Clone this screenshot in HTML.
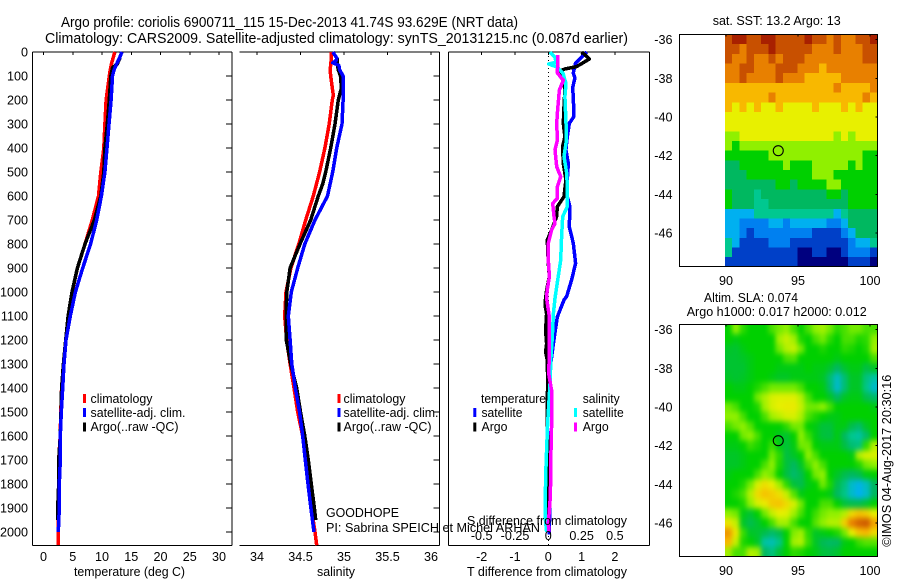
<!DOCTYPE html>
<html lang="en">
<head>
<meta charset="utf-8">
<title>Argo profile chart</title>
<style>
html,body{margin:0;padding:0;background:#fff;}
svg{display:block;font-family:"Liberation Sans",sans-serif;font-size:12.6px;fill:#000;}
text{fill:#000;}
</style>
</head>
<body>
<svg id="chart" xmlns="http://www.w3.org/2000/svg" width="900" height="580" viewBox="0 0 900 580">
  <defs>
    <clipPath id="clip-sst"><rect x="680" y="35" width="197" height="231"/></clipPath>
    <clipPath id="clip-sla"><rect x="680" y="325" width="197" height="231"/></clipPath>
    <filter id="smooth" filterUnits="userSpaceOnUse" x="690" y="295" width="210" height="285" color-interpolation-filters="sRGB"><feGaussianBlur stdDeviation="2.4 3"/></filter>
  </defs>

  <text x="61" y="27" font-size="14.4" textLength="457" lengthAdjust="spacingAndGlyphs">Argo profile: coriolis 6900711_115 15-Dec-2013 41.74S 93.629E (NRT data)</text>
  <text x="45" y="43" font-size="14.4" textLength="583" lengthAdjust="spacingAndGlyphs">Climatology: CARS2009. Satellite-adjusted climatology: synTS_20131215.nc (0.087d earlier)</text>

  <g id="map-layer"></g>
  <g id="plot-layer"></g>

  <g>
    <rect x="83" y="394" width="3" height="9" fill="#ff0000"/>
    <text x="90.5" y="403" textLength="62" lengthAdjust="spacingAndGlyphs">climatology</text>
    <rect x="83" y="408" width="3" height="9" fill="#0000ff"/>
    <text x="90.5" y="417" textLength="95" lengthAdjust="spacingAndGlyphs">satellite-adj. clim.</text>
    <rect x="83" y="422.5" width="3" height="9" fill="#000"/>
    <text x="90.5" y="431" textLength="88" lengthAdjust="spacingAndGlyphs">Argo(..raw -QC)</text>
  </g>
  <g>
    <rect x="337.5" y="394" width="3" height="9" fill="#ff0000"/>
    <text x="343.5" y="403" textLength="62" lengthAdjust="spacingAndGlyphs">climatology</text>
    <rect x="337.5" y="408" width="3" height="9" fill="#0000ff"/>
    <text x="343.5" y="417" textLength="95" lengthAdjust="spacingAndGlyphs">satellite-adj. clim.</text>
    <rect x="337.5" y="422.5" width="3" height="9" fill="#000"/>
    <text x="343.5" y="431" textLength="88" lengthAdjust="spacingAndGlyphs">Argo(..raw -QC)</text>
  </g>
  <g>
    <text x="481" y="403" textLength="65" lengthAdjust="spacingAndGlyphs">temperature</text>
    <rect x="473.3" y="408" width="3" height="9" fill="#0000ff"/>
    <text x="481.5" y="417" textLength="41" lengthAdjust="spacingAndGlyphs">satellite</text>
    <rect x="473.3" y="422.5" width="3" height="9" fill="#000"/>
    <text x="481.5" y="431" textLength="26" lengthAdjust="spacingAndGlyphs">Argo</text>
    <text x="582.7" y="403" textLength="37" lengthAdjust="spacingAndGlyphs">salinity</text>
    <rect x="574" y="408" width="3" height="9" fill="#00ffff"/>
    <text x="582.7" y="417" textLength="41" lengthAdjust="spacingAndGlyphs">satellite</text>
    <rect x="574" y="422.5" width="3" height="9" fill="#ff00ff"/>
    <text x="582.7" y="431" textLength="26" lengthAdjust="spacingAndGlyphs">Argo</text>
  </g>

  <text x="74" y="576" textLength="111" lengthAdjust="spacingAndGlyphs">temperature (deg C)</text>
  <text x="317" y="576" textLength="38" lengthAdjust="spacingAndGlyphs">salinity</text>
  <text x="467" y="576" textLength="160" lengthAdjust="spacingAndGlyphs">T difference from climatology</text>
  <text x="467" y="525" textLength="160" lengthAdjust="spacingAndGlyphs">S difference from climatology</text>
  <text x="326" y="517" textLength="73" lengthAdjust="spacingAndGlyphs">GOODHOPE</text>
  <text x="326" y="532" textLength="214" lengthAdjust="spacingAndGlyphs">PI: Sabrina SPEICH et Michel ARHAN</text>

  <text x="712.7" y="25" textLength="128" lengthAdjust="spacingAndGlyphs">sat. SST: 13.2 Argo: 13</text>
  <text x="704" y="302" textLength="94" lengthAdjust="spacingAndGlyphs">Altim. SLA: 0.074</text>
  <text x="686.7" y="316" textLength="180" lengthAdjust="spacingAndGlyphs">Argo h1000: 0.017 h2000: 0.012</text>
  <text transform="translate(891,546.7) rotate(-90)" x="0" y="0" textLength="172" lengthAdjust="spacingAndGlyphs">©IMOS 04-Aug-2017 20:30:16</text>
</svg>

<script>
// ---- axis tick labels ----
const depthTicks = [0,100,200,300,400,500,600,700,800,900,1000,1100,1200,1300,1400,1500,1600,1700,1800,1900,2000];
const tempTicks = [0,5,10,15,20,25,30];
const salTicks = ['34','34.5','35','35.5','36'];
const tDiffTicks = [-2,-1,0,1,2];
const sDiffTicks = ['-0.5','-0.25','0','0.25','0.5'];
const lonTicks = [90,95,100];
const latTicks = [-36,-38,-40,-42,-44,-46];

// ---- profile series ----
const profileDepths = [0,25,50,75,100,200,300,400,500,600,700,800,900,1000,1100,1200,1300,1400,1500,1600,1700,1800,1900,2000,2055];
const tempClim = [12.2,11.9,11.6,11.4,11.25,10.7,10.5,10.3,9.8,9.4,8.35,7.1,5.8,4.9,4.3,3.8,3.4,3.1,2.95,2.85,2.6,2.6,2.55,2.55,2.55];
const tempSatDepths = [0,25,50,75,100,200,300,400,500,600,700,800,900,1000,1100,1200,1300,1400,1500,1600,1700,1800,1900,2000];
const tempSat = [13.4,13.0,12.5,12.05,11.8,11.55,11.2,10.85,10.5,9.9,9.1,8.05,6.7,5.45,4.58,3.85,3.5,3.28,3.05,2.88,2.88,2.7,2.7,2.53];
const tempArgoDepths = [25,50,65,100,200,300,400,500,600,700,800,900,1000,1100,1200,1300,1400,1500,1600,1700,1800,1900,1950];
const tempArgo = [13.1,12.6,11.8,11.5,11.25,10.9,10.5,10.3,9.8,8.7,7.1,5.8,4.87,4.2,3.8,3.4,3.1,3.0,2.88,2.6,2.6,2.43,2.43];

const salClimDepths = [0,25,50,75,100,150,180,200,300,400,500,600,700,800,900,1000,1100,1200,1300,1400,1500,1600,1700,1800,1900,2000,2055];
const salClim = [34.854,34.854,34.848,34.84,34.847,34.866,34.877,34.866,34.83,34.78,34.72,34.647,34.56,34.48,34.39,34.333,34.318,34.34,34.38,34.425,34.468,34.525,34.555,34.59,34.625,34.667,34.686];
const salSatDepths = [0,25,35,45,55,75,100,200,300,400,500,600,700,800,900,1000,1100,1200,1300,1400,1500,1600,1700,1800,1900,2000];
const salSat = [34.87,34.916,34.91,34.87,34.94,34.95,34.99,34.99,34.977,34.916,34.87,34.81,34.667,34.55,34.468,34.394,34.36,34.38,34.40,34.44,34.49,34.525,34.555,34.586,34.62,34.655];
const salArgoDepths = [25,50,75,100,150,200,300,400,500,550,600,700,800,900,1000,1100,1200,1300,1400,1500,1600,1700,1800,1900,1950];
const salArgo = [34.923,34.923,34.935,34.96,34.97,34.935,34.897,34.847,34.79,34.755,34.705,34.617,34.494,34.38,34.343,34.333,34.337,34.387,34.456,34.5,34.55,34.59,34.624,34.66,34.675];

const tSatDiffDepths = [0,46,87,108,150,186,269,297,353,408,464,533,603,644,728,797,880,950,1019,1033,1104,1188,1271,1354,1550,1690,1830,2010];
const tSatDiff = [1.15,0.82,0.75,0.8,0.73,0.75,0.77,0.63,0.57,0.53,0.6,0.57,0.57,0.65,0.63,0.75,0.82,0.70,0.55,0.47,0.27,0.18,0.1,0.02,-0.03,0,0.05,0.03];
const tArgoDiffDepths = [0,29,61,71,82,110,158,228,297,353,394,464,533,603,644,686,742,783,880,936,992,1026,1054,1090,1160,1215,1250,1285,1354,1550,1772,1950];
const tArgoDiff = [1.01,1.23,0.85,0.5,0.29,0.44,0.5,0.47,0.45,0.5,0.43,0.45,0.53,0.47,0.27,0.25,0.1,-0.03,0,0.03,-0.05,-0.08,-0.1,-0.05,-0.08,-0.05,-0.08,-0.03,-0.02,-0.03,0,0];
const sSatDiffDepths = [0,22,43,50,62,88,117,130,186,297,380,436,505,561,644,686,769,867,978,1026,1090,1188,1271,1382,1550,1660,1772,1938,2000];
const sSatDiff = [0.013,0.05,0.058,0.002,0.065,0.11,0.125,0.133,0.125,0.133,0.133,0.118,0.138,0.143,0.143,0.108,0.1,0.093,0.063,0.05,0.038,0.03,0.02,0.013,-0.005,-0.013,-0.02,-0.023,-0.013];
const sArgoDiffDepths = [12,54,87,110,117,158,242,297,367,408,478,519,561,610,631,686,714,742,797,867,936,992,1026,1104,1188,1250,1340,1410,1550,1660,1772,1855,1966,2000];
const sArgoDiff = [0.07,0.07,0.068,0.1,0.113,0.083,0.07,0.063,0.068,0.05,0.063,0.093,0.068,0.068,0.033,0.043,0.05,0.025,0,0,0.008,-0.008,-0.013,0.008,0.008,0.008,0.003,0.025,0.025,0.02,0.018,0.015,0,0.005];

// ---- map values (colour-scale level per 0.5 degree cell, rows north to south) ----
const sstGrid = [
[11,12,12,11,11,12,12,11,11,11,11,12,11,11,10,11,10,10,11,11,12],
[11,11,10,11,11,11,12,11,11,11,11,11,10,10,10,11,10,10,10,11,11],
[11,10,10,11,10,10,11,10,11,11,11,10,10,10,10,10,10,10,10,11,11],
[10,10,11,11,10,10,10,11,11,11,10,10,10,9,10,10,10,10,10,10,10],
[10,10,11,10,10,10,10,11,10,10,10,9,9,9,9,9,10,10,10,10,10],
[9,9,9,9,9,9,9,9,9,9,9,9,9,9,9,10,9,9,9,9,10],
[9,9,9,9,9,9,10,9,9,9,9,9,9,9,9,9,9,9,9,10,9],
[9,8,9,8,9,8,8,9,8,8,8,8,9,8,8,8,9,8,9,8,8],
[8,8,8,8,8,8,8,8,8,8,8,8,8,8,8,8,8,8,8,8,8],
[8,8,8,8,8,8,8,8,8,8,8,8,8,8,8,8,8,8,8,8,8],
[7,7,8,8,8,8,8,8,8,8,8,8,8,8,8,7,8,7,8,8,8],
[7,6,7,7,7,7,7,7,7,7,7,7,7,7,7,7,7,7,7,7,7],
[6,6,6,6,6,6,7,7,7,7,7,7,7,7,7,7,7,7,7,6,6],
[5,5,6,6,6,6,6,6,7,6,6,6,7,7,7,7,7,6,7,6,6],
[5,5,5,6,6,6,6,6,6,6,6,6,7,7,7,6,6,6,6,6,6],
[5,5,5,5,5,5,5,6,6,5,6,6,6,6,7,7,6,6,6,6,6],
[6,5,5,5,4,5,5,5,5,5,5,5,5,5,6,6,5,6,6,6,6],
[6,5,5,5,4,4,5,5,5,5,5,5,5,5,5,5,5,6,6,6,6],
[3,3,3,3,4,4,4,4,4,4,4,4,4,4,4,3,4,5,5,5,5],
[3,3,2,2,2,2,3,3,2,3,3,3,3,3,2,2,3,5,5,5,5],
[3,3,2,1,2,2,2,2,2,2,2,2,1,1,1,1,2,3,5,5,5],
[4,3,1,1,1,1,2,2,2,1,1,1,1,1,1,1,1,2,3,3,4],
[4,1,1,1,1,1,1,1,1,1,0,0,1,1,0,0,1,2,2,2,1],
[1,1,1,1,1,1,1,1,1,1,0,0,0,0,0,0,0,1,1,1,0]
];
const slaGrid = [
[6,7,6.3,6,6,6,6.5,6.8,7,6.5,6,6.5,7,7.2,6.8,6.3,6.5,6.8,6.8,6.5,6.5],
[6,5.8,6,6,6,6,6,7.2,7.6,7.2,6.2,6,6.5,6.8,6.3,6,6.5,6.5,6.2,6.3,7],
[5.6,5.5,5.8,6,6,6,6,6.8,7.4,7.6,6.8,6,6,6.2,6,6,6.3,6.2,6,6.2,7.2],
[5.5,5.5,5.6,5.8,6,6,6,6,6.5,6.6,6,6,6,6,6,5.8,6,6,6,6,6.5],
[5.5,5.5,5.5,5.8,6,6,6,5.8,5.8,5.8,5.8,6,5.8,5.8,5.5,5,5.5,5.8,5.8,5.3,5.6],
[5.6,5.5,5.6,5.8,6,6,5.8,5.6,5.6,5.8,5.8,5.8,5.8,5.6,4.6,3.5,4.6,5.6,5.6,4.4,3.8],
[6,5.8,5.8,6,6.2,6.5,6.8,6.8,6.8,6.8,6.5,6,6,5.8,4.8,3.4,4.6,5.6,5.6,4.2,3.4],
[6,6,6,6,6.8,7.3,7.8,7.9,7.9,7.9,7.4,6.5,6,6,5.6,5,5.6,5.8,5.8,5.2,4.8],
[6.8,6.5,6,6,6.2,7.2,7.8,8,8.1,8.1,7.6,6.8,6.8,7,6.5,6,6,6,6,6,5.8],
[7,7,6.5,6,6,6.5,7.2,7.5,7.8,7.8,7.3,6.5,6.2,6,5.8,5.8,6,6,6,6,6],
[6.5,6.8,7,6.6,6,6,6,6,6.3,6.8,6.8,6,5.8,5.4,5.4,5.8,5.8,5.2,4.8,5.6,6],
[6,6,6.8,7,6.5,6,6,5.7,5.5,6,7,6.4,5.8,5.4,5.3,5.8,5,4,3.8,4.8,6],
[5.8,5.8,6,6.4,6.2,6,6.4,5.8,5.4,5.8,6.8,6.8,6,5.8,5.8,5.8,5.3,4.6,4.4,6.3,7.4],
[5.6,5.6,5.8,6,6,6,6.8,6.3,5.3,5.6,6,7,6.5,6,6,6,6,5.8,7.4,7.8,7.8],
[5.6,5.6,5.8,6,6,6.5,7,6.2,5.4,5,5.6,6.5,7,6.5,6,6,6,6,6.2,6.8,7],
[5.8,6,6,6,6.5,7,6.8,6,5.3,4.8,5.2,6,6.8,7,6,5.6,5.2,5,5.2,5.8,6],
[6,6,6.2,6.8,7.8,8.3,8,7.2,6.3,5.4,5.2,5.8,6,6.8,6.2,5.2,4.4,3.4,3.1,3.5,5],
[6,6.2,6.5,7.4,8.4,8.8,8.6,8.3,7.6,6.6,5.8,6,6,6,5.8,5,4.2,3.4,3,3.4,5],
[6,6,6.2,7,7.8,8.1,8.7,8.8,8.4,7.8,6.8,6,6,6.5,6.5,6,5.4,5.2,5.2,5.5,6],
[7,6.8,5.8,5.5,6,6.8,7.6,8,7.9,7.2,6.5,6,6.4,6.8,7,7,7.4,8.4,8.8,8.6,8],
[8.2,7.6,5.6,5.2,5.5,6,6.5,7.2,7.2,6.5,6,6,6.6,7,7.4,7.4,8.6,10,10.6,10.8,9.4],
[9.6,8.2,6.4,5.6,5.5,5.2,4.8,5.2,6,6.9,7.2,6.3,5.6,5.8,6,6.2,6.8,8,8.8,9,8.4],
[9,7.6,6.2,6,5.6,3.8,3.6,4.2,6,7.2,7.4,6.4,5.6,5.1,4.9,5,5.8,6,6.4,6.6,6.6],
[7.2,6.5,6.5,7.4,7.2,5,4.4,5.4,6,6.3,6.2,6,5.8,5.4,5.3,5.5,6,6,6,6,6]
];
const floatLon = 93.629;
const floatLat = -41.74;

// ---- colour scale stops (level 0..12) ----
const scaleColors = [[0,0,127],[0,64,200],[0,128,240],[0,176,240],[0,200,144],[0,184,96],[0,208,0],[144,240,0],[232,240,0],[248,184,0],[232,128,0],[200,80,0],[168,32,0]];

// ---- axis functions ----
const SVGNS = 'http://www.w3.org/2000/svg';
const plotLayer = document.getElementById('plot-layer');
const mapLayer = document.getElementById('map-layer');
const PLOT_TOP = 52, PLOT_BOTTOM = 545.5;
function depthY(d){ return PLOT_TOP + d * 0.24; }
function tempX(t){ return 43.5 + t * 5.85; }
function salX(s){ return 257 + (s - 34) * 87; }
function tDiffX(t){ return 548.3 + t * 33.3; }
function sDiffX(s){ return 548.3 + s * 133.2; }
function lonX(l){ return 726 + (l - 90) * 14.4; }
function latY(l, base){ return base + (-42 - l) * 19.36; }
function scaleColor(v){
  const lo = Math.max(0, Math.min(scaleColors.length - 1, Math.floor(v)));
  const hi = Math.min(scaleColors.length - 1, lo + 1);
  const f = Math.max(0, Math.min(1, v - lo));
  const c = scaleColors[lo].map(function(a, i){ return Math.round(a + (scaleColors[hi][i] - a) * f); });
  return 'rgb(' + c.join(',') + ')';
}
function make(parent, tag, attrs, txt){
  const el = document.createElementNS(SVGNS, tag);
  for (const k in attrs) el.setAttribute(k, attrs[k]);
  if (txt !== undefined) el.textContent = txt;
  parent.appendChild(el);
  return el;
}
function drawLine(parent, x1, y1, x2, y2){
  return make(parent, 'line', {x1:x1, y1:y1, x2:x2, y2:y2, stroke:'#000', 'stroke-width':1, 'shape-rendering':'crispEdges'});
}
function drawSeries(parent, depths, values, xFn, color, width){
  const pts = depths.map(function(d, i){ return xFn(values[i]).toFixed(1) + ',' + depthY(d).toFixed(1); }).join(' ');
  return make(parent, 'polyline', {points:pts, fill:'none', stroke:color, 'stroke-width':width || 3.5, 'shape-rendering':'crispEdges', 'stroke-linejoin':'round'});
}

// ---- profile panels: frames and ticks ----
function drawPanel(name, left, right, hasLeft, xTicks, xFn, rightTicks){
  const g = make(plotLayer, 'g', {});
  
  
  const top = drawLine(g, left, PLOT_TOP, right, PLOT_TOP);
  
  
  const bottom = drawLine(g, left, PLOT_BOTTOM, right, PLOT_BOTTOM);
  
  
  const rightLine = drawLine(g, right, PLOT_TOP, right, PLOT_BOTTOM);
  
  
  if (hasLeft) {
    const leftLine = drawLine(g, left, PLOT_TOP, left, PLOT_BOTTOM);
    
    
  }
  xTicks.forEach(function(t){
    const tick = drawLine(g, xFn(Number(t)), PLOT_TOP, xFn(Number(t)), PLOT_TOP + 3);
    
    
  });
  if (rightTicks) {
    depthTicks.forEach(function(d){
      const tick = drawLine(g, right - 6, depthY(d), right, depthY(d));
      
      
    });
  }
  return g;
}
const tempPanel = drawPanel('temperature', 32.5, 232, true, tempTicks, tempX, true);
const salPanel = drawPanel('salinity', 239.5, 439.5, false, salTicks, salX, true);
const diffPanel = drawPanel('difference', 448.5, 649.5, true, tDiffTicks, tDiffX, false);

// ---- tick labels ----
depthTicks.forEach(function(d){
  const label = make(plotLayer, 'text', {x:28, y:depthY(d) + 4.5, 'text-anchor':'end'}, String(d));
  
  
});
tempTicks.forEach(function(t){
  const label = make(plotLayer, 'text', {x:tempX(t), y:561, 'text-anchor':'middle'}, String(t));
  
  
});
salTicks.forEach(function(t){
  const label = make(plotLayer, 'text', {x:salX(Number(t)), y:561, 'text-anchor':'middle'}, t);
  
  
});
tDiffTicks.forEach(function(t){
  const label = make(plotLayer, 'text', {x:tDiffX(t), y:561, 'text-anchor':'middle'}, String(t));
  
  
});
sDiffTicks.forEach(function(t){
  const label = make(plotLayer, 'text', {x:sDiffX(Number(t)), y:540, 'text-anchor':'middle'}, t);
  
  
});

// ---- series ----
const s1 = drawSeries(tempPanel, profileDepths, tempClim, tempX, '#ff0000');


const s2 = drawSeries(tempPanel, tempArgoDepths, tempArgo, tempX, '#000000');


const s3 = drawSeries(tempPanel, tempSatDepths, tempSat, tempX, '#0000ff');



const s4 = drawSeries(salPanel, salClimDepths, salClim, salX, '#ff0000');


const s5 = drawSeries(salPanel, salArgoDepths, salArgo, salX, '#000000');


const s6 = drawSeries(salPanel, salSatDepths, salSat, salX, '#0000ff');



const zero = make(diffPanel, 'line', {x1:tDiffX(0), y1:PLOT_TOP, x2:tDiffX(0), y2:PLOT_BOTTOM, stroke:'#000', 'stroke-width':1, 'stroke-dasharray':'1 3', 'shape-rendering':'crispEdges'});


const s7 = drawSeries(diffPanel, tSatDiffDepths, tSatDiff, tDiffX, '#0000ff');


const s8 = drawSeries(diffPanel, tArgoDiffDepths, tArgoDiff, tDiffX, '#000000');


const s9 = drawSeries(diffPanel, sSatDiffDepths, sSatDiff, sDiffX, '#00ffff');


const s10 = drawSeries(diffPanel, sArgoDiffDepths, sArgoDiff, sDiffX, '#ff00ff');



// ---- maps ----
const MAP_LEFT_LON = 89.93, MAP_RIGHT_LON = 100.5, MAP_NORTH_LAT = -35.74, MAP_STEP_LAT = 0.5;
function drawMap(name, grid, base, clipId, smooth){
  const outer = make(mapLayer, 'g', {'clip-path':'url(#' + clipId + ')'});
  
  
  const cells = make(outer, 'g', smooth ? {filter:'url(#smooth)'} : {});
  const lonStep = (MAP_RIGHT_LON - MAP_LEFT_LON) / grid[0].length;
  const pad = smooth ? 14 : 0;
  grid.forEach(function(row, r){
    row.forEach(function(v, c){
      const x0 = lonX(MAP_LEFT_LON + c * lonStep);
      const x1 = lonX(MAP_LEFT_LON + (c + 1) * lonStep);
      const y0 = latY(MAP_NORTH_LAT - r * MAP_STEP_LAT, base);
      const y1 = latY(MAP_NORTH_LAT - (r + 1) * MAP_STEP_LAT, base);
      const xs = (c === 0) ? x0 - pad : x0;
      const xa = (c === row.length - 1) ? x1 + pad : x1;
      const ya = (r === 0) ? y0 - pad : y0;
      const yb = (r === grid.length - 1) ? y1 + pad : y1;
      const cell = make(cells, 'rect', {x:xs.toFixed(2), y:ya.toFixed(2), width:(xa - xs + 0.4).toFixed(2), height:(yb - ya + 0.4).toFixed(2), fill:scaleColor(v), 'shape-rendering':'crispEdges'});
      
      
    });
  });
  if (smooth) {
    // white mask keeps the sharp western data edge
    const mask = make(outer, 'rect', {x:679, y:base - 130, width:lonX(MAP_LEFT_LON) - 679, height:250, fill:'#fff'});
    
    
  }
}
function drawMapFrame(name, base, labelY){
  const left = 679.5, right = 877.5, top = base - 121.2, bottom = base + 111;
  const frame = make(mapLayer, 'rect', {x:left, y:top, width:right - left, height:bottom - top, fill:'none', stroke:'#000', 'stroke-width':1, 'shape-rendering':'crispEdges'});
  
  
  lonTicks.forEach(function(l){
    const tick = drawLine(mapLayer, lonX(l), top, lonX(l), top + 2);
    
    
    const label = make(mapLayer, 'text', {x:lonX(l), y:labelY, 'text-anchor':'middle'}, String(l));
    
    
  });
  latTicks.forEach(function(l){
    const tick = drawLine(mapLayer, right - 2, latY(l, base), right, latY(l, base));
    
    
    const label = make(mapLayer, 'text', {x:672.5, y:latY(l, base) + 4.5, 'text-anchor':'end'}, String(l));
    
    
  });
  const marker = make(mapLayer, 'circle', {cx:lonX(floatLon), cy:latY(floatLat, base), r:5, fill:'none', stroke:'#000', 'stroke-width':1.1});
  
  
}
drawMap('sst-map', sstGrid, 155.7, 'clip-sst', false);
drawMapFrame('sst-map', 155.7, 285);
drawMap('sla-map', slaGrid, 445.7, 'clip-sla', true);
drawMapFrame('sla-map', 445.7, 575);
</script>
</body>
</html>
